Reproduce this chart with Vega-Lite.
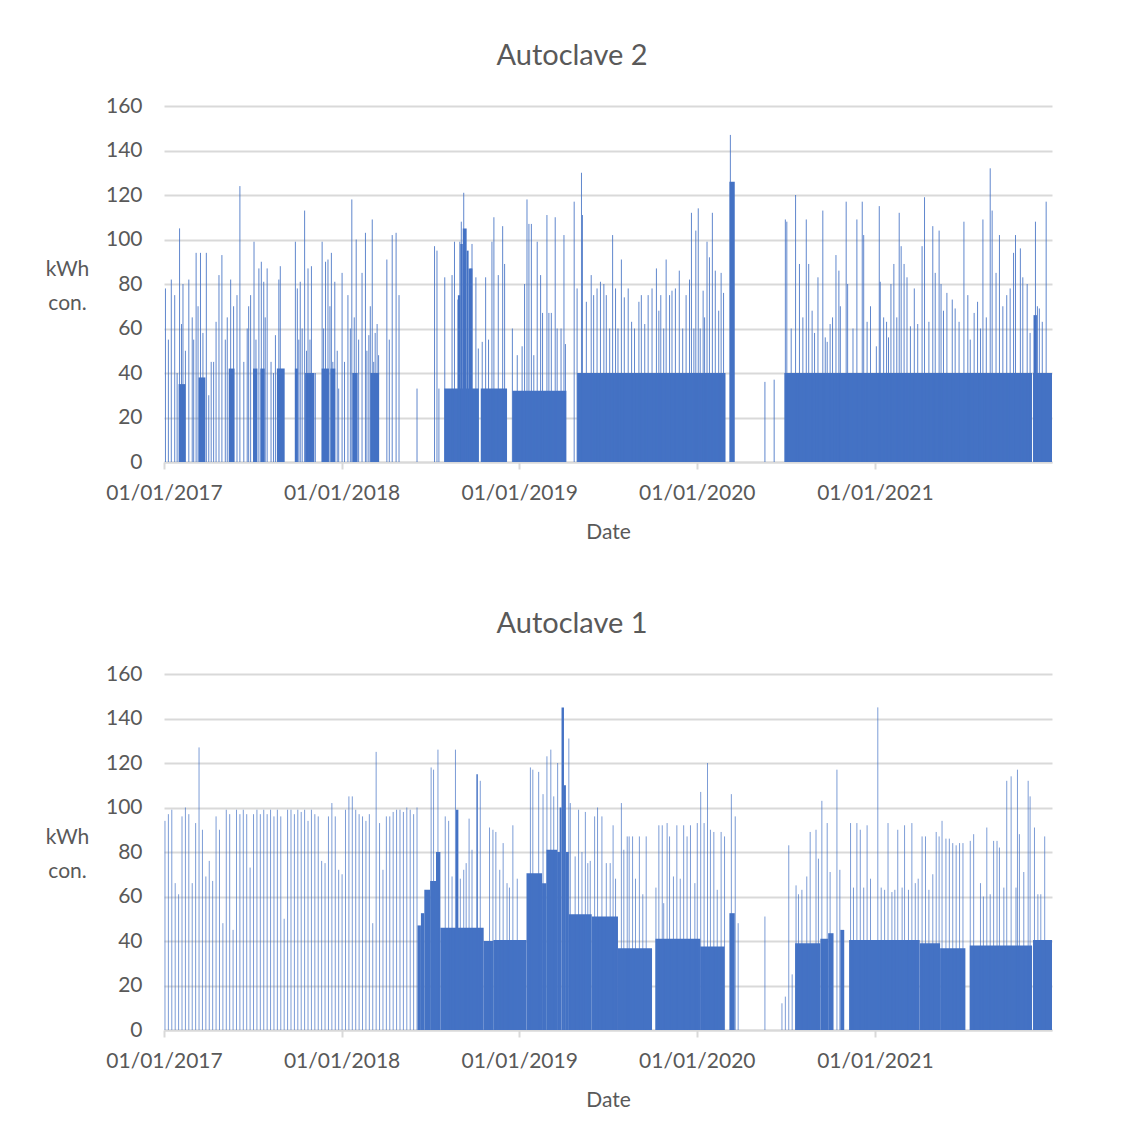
{
 "$schema": "https://vega.github.io/schema/vega-lite/v6.json",
 "background": "white",
 "padding": {"left": 45, "top": 42, "right": 20, "bottom": 10},
 "spacing": 212,
 "bounds": "flush",
 "config": {
  "font": "Lato",
  "view": {"stroke": null},
  "axis": {"labelFont": "Lato", "labelFontSize": 21, "labelColor": "#595959", "titleFont": "Lato", "titleFontSize": 21, "titleColor": "#595959", "titleFontWeight": "normal"},
  "title": {"font": "Lato", "fontSize": 29, "color": "#595959", "fontWeight": "normal"}
 },
 "vconcat": [
  {
   "width": 888, "height": 356,
   "title": {"text": "Autoclave 2", "anchor": "middle", "frame": "group", "dx": -36, "offset": 24},
   "encoding": {
    "x": {"field": "d", "type": "temporal", "title": "Date",
     "scale": {"domain": [{"year": 2017, "month": 1, "date": 1}, {"year": 2021, "month": 12, "date": 31}]},
     "axis": {"values": [{"year": 2017, "month": 1, "date": 1}, {"year": 2018, "month": 1, "date": 1}, {"year": 2019, "month": 1, "date": 1}, {"year": 2020, "month": 1, "date": 1}, {"year": 2021, "month": 1, "date": 1}], "format": "%d/%m/%Y", "grid": false, "domainColor": "#D9D9D9", "domainWidth": 2, "tickColor": "#D9D9D9", "tickSize": 7, "tickWidth": 2, "labelPadding": 13, "titlePadding": 18, "labelFlush": false, "labelOverlap": false}},
    "y": {"field": "v", "type": "quantitative", "title": ["kWh", "con."],
     "scale": {"domain": [0, 160], "nice": false},
     "axis": {"values": [0, 20, 40, 60, 80, 100, 120, 140, 160], "domain": false, "ticks": false, "gridColor": "#D9D9D9", "gridWidth": 2, "labelPadding": 22, "titleAngle": 0, "titleAlign": "center", "titleBaseline": "middle", "titleX": -97, "titleY": 163, "titleLineHeight": 34}}
   },
   "layer": [
    {
     "data": {"format": {"parse": {"d": "date:'%Y-%j'", "d2": "date:'%Y-%j'"}}, "values": [
      {"d": "2017-031", "d2": "2017-045", "v": 35},
      {"d": "2017-072", "d2": "2017-086", "v": 38},
      {"d": "2017-134", "d2": "2017-146", "v": 42},
      {"d": "2017-184", "d2": "2017-193", "v": 42},
      {"d": "2017-199", "d2": "2017-208", "v": 42},
      {"d": "2017-233", "d2": "2017-249", "v": 42},
      {"d": "2017-270", "d2": "2017-276", "v": 42},
      {"d": "2017-291", "d2": "2017-310", "v": 40},
      {"d": "2017-325", "d2": "2017-340", "v": 42},
      {"d": "2017-343", "d2": "2017-353", "v": 42},
      {"d": "2018-023", "d2": "2018-034", "v": 40},
      {"d": "2018-060", "d2": "2018-078", "v": 40},
      {"d": "2018-212", "d2": "2018-283", "v": 33},
      {"d": "2018-240", "d2": "2018-245", "v": 75},
      {"d": "2018-245", "d2": "2018-250", "v": 98},
      {"d": "2018-250", "d2": "2018-258", "v": 105},
      {"d": "2018-258", "d2": "2018-262", "v": 95},
      {"d": "2018-262", "d2": "2018-270", "v": 87},
      {"d": "2018-287", "d2": "2018-341", "v": 33},
      {"d": "2018-352", "d2": "2019-098", "v": 32},
      {"d": "2019-120", "d2": "2020-060", "v": 40},
      {"d": "2020-068", "d2": "2020-079", "v": 126},
      {"d": "2020-181", "d2": "2021-324", "v": 40},
      {"d": "2021-326", "d2": "2021-365", "v": 40},
      {"d": "2021-327", "d2": "2021-334", "v": 66}
     ]},
     "mark": {"type": "rect", "color": "#4472C4"},
     "encoding": {"x2": {"field": "d2"}, "y2": {"datum": 0}}
    },
    {
     "data": {"format": {"parse": {"d": "date:'%Y-%j'"}}, "values": [
      {"d": "2017-004", "v": 78}, {"d": "2017-010", "v": 55}, {"d": "2017-016", "v": 82}, {"d": "2017-023", "v": 75}, {"d": "2017-028", "v": 40}, {"d": "2017-033", "v": 105}, {"d": "2017-037", "v": 62}, {"d": "2017-040", "v": 80}, {"d": "2017-045", "v": 50}, {"d": "2017-052", "v": 82}, {"d": "2017-059", "v": 65}, {"d": "2017-062", "v": 55}, {"d": "2017-067", "v": 94}, {"d": "2017-071", "v": 70}, {"d": "2017-076", "v": 94}, {"d": "2017-081", "v": 58}, {"d": "2017-088", "v": 94}, {"d": "2017-093", "v": 30}, {"d": "2017-098", "v": 45}, {"d": "2017-103", "v": 45}, {"d": "2017-108", "v": 63}, {"d": "2017-114", "v": 84}, {"d": "2017-120", "v": 93}, {"d": "2017-127", "v": 55}, {"d": "2017-131", "v": 65}, {"d": "2017-138", "v": 82}, {"d": "2017-144", "v": 70}, {"d": "2017-151", "v": 75}, {"d": "2017-157", "v": 124}, {"d": "2017-165", "v": 45}, {"d": "2017-172", "v": 60}, {"d": "2017-175", "v": 70}, {"d": "2017-179", "v": 75}, {"d": "2017-186", "v": 99}, {"d": "2017-190", "v": 55}, {"d": "2017-196", "v": 87}, {"d": "2017-201", "v": 90}, {"d": "2017-206", "v": 81}, {"d": "2017-209", "v": 65}, {"d": "2017-213", "v": 87}, {"d": "2017-221", "v": 45}, {"d": "2017-226", "v": 40}, {"d": "2017-230", "v": 57}, {"d": "2017-237", "v": 82}, {"d": "2017-240", "v": 88}, {"d": "2017-271", "v": 99}, {"d": "2017-275", "v": 78}, {"d": "2017-278", "v": 55}, {"d": "2017-281", "v": 81}, {"d": "2017-285", "v": 60}, {"d": "2017-290", "v": 113}, {"d": "2017-294", "v": 50}, {"d": "2017-297", "v": 87}, {"d": "2017-301", "v": 55}, {"d": "2017-304", "v": 88}, {"d": "2017-312", "v": 40}, {"d": "2017-326", "v": 99}, {"d": "2017-329", "v": 60}, {"d": "2017-333", "v": 90}, {"d": "2017-338", "v": 91}, {"d": "2017-342", "v": 70}, {"d": "2017-345", "v": 94}, {"d": "2017-348", "v": 45}, {"d": "2017-352", "v": 81}, {"d": "2017-357", "v": 50}, {"d": "2017-360", "v": 33},
      {"d": "2018-002", "v": 85}, {"d": "2018-007", "v": 45}, {"d": "2018-014", "v": 75}, {"d": "2018-019", "v": 60}, {"d": "2018-022", "v": 118}, {"d": "2018-027", "v": 65}, {"d": "2018-031", "v": 100}, {"d": "2018-036", "v": 55}, {"d": "2018-043", "v": 85}, {"d": "2018-050", "v": 103}, {"d": "2018-053", "v": 50}, {"d": "2018-057", "v": 57}, {"d": "2018-060", "v": 70}, {"d": "2018-064", "v": 109}, {"d": "2018-067", "v": 45}, {"d": "2018-070", "v": 58}, {"d": "2018-074", "v": 62}, {"d": "2018-077", "v": 48}, {"d": "2018-094", "v": 91}, {"d": "2018-099", "v": 55}, {"d": "2018-105", "v": 102}, {"d": "2018-113", "v": 103}, {"d": "2018-119", "v": 75}, {"d": "2018-156", "v": 33}, {"d": "2018-192", "v": 97}, {"d": "2018-197", "v": 95}, {"d": "2018-201", "v": 33}, {"d": "2018-213", "v": 83}, {"d": "2018-228", "v": 84}, {"d": "2018-233", "v": 99}, {"d": "2018-240", "v": 73}, {"d": "2018-244", "v": 99}, {"d": "2018-247", "v": 108}, {"d": "2018-252", "v": 121}, {"d": "2018-267", "v": 87}, {"d": "2018-269", "v": 98}, {"d": "2018-277", "v": 83}, {"d": "2018-282", "v": 51}, {"d": "2018-290", "v": 54}, {"d": "2018-297", "v": 83}, {"d": "2018-303", "v": 55}, {"d": "2018-310", "v": 99}, {"d": "2018-314", "v": 110}, {"d": "2018-323", "v": 84}, {"d": "2018-332", "v": 106}, {"d": "2018-336", "v": 89}, {"d": "2018-352", "v": 60}, {"d": "2018-362", "v": 48},
      {"d": "2019-007", "v": 52}, {"d": "2019-012", "v": 80}, {"d": "2019-017", "v": 118}, {"d": "2019-021", "v": 107}, {"d": "2019-026", "v": 107}, {"d": "2019-031", "v": 48}, {"d": "2019-038", "v": 99}, {"d": "2019-045", "v": 84}, {"d": "2019-049", "v": 67}, {"d": "2019-058", "v": 111}, {"d": "2019-062", "v": 67}, {"d": "2019-067", "v": 67}, {"d": "2019-075", "v": 110}, {"d": "2019-079", "v": 60}, {"d": "2019-087", "v": 60}, {"d": "2019-093", "v": 102}, {"d": "2019-096", "v": 53}, {"d": "2019-114", "v": 117}, {"d": "2019-120", "v": 78}, {"d": "2019-129", "v": 130}, {"d": "2019-131", "v": 111}, {"d": "2019-139", "v": 72}, {"d": "2019-149", "v": 84}, {"d": "2019-154", "v": 75}, {"d": "2019-161", "v": 78}, {"d": "2019-168", "v": 81}, {"d": "2019-175", "v": 80}, {"d": "2019-180", "v": 75}, {"d": "2019-187", "v": 60}, {"d": "2019-193", "v": 102}, {"d": "2019-199", "v": 78}, {"d": "2019-204", "v": 60}, {"d": "2019-211", "v": 91}, {"d": "2019-217", "v": 74}, {"d": "2019-225", "v": 78}, {"d": "2019-232", "v": 63}, {"d": "2019-238", "v": 60}, {"d": "2019-247", "v": 72}, {"d": "2019-252", "v": 75}, {"d": "2019-259", "v": 62}, {"d": "2019-266", "v": 75}, {"d": "2019-274", "v": 78}, {"d": "2019-283", "v": 87}, {"d": "2019-288", "v": 68}, {"d": "2019-292", "v": 75}, {"d": "2019-298", "v": 60}, {"d": "2019-303", "v": 91}, {"d": "2019-310", "v": 75}, {"d": "2019-315", "v": 77}, {"d": "2019-322", "v": 78}, {"d": "2019-330", "v": 86}, {"d": "2019-337", "v": 60}, {"d": "2019-344", "v": 75}, {"d": "2019-351", "v": 82}, {"d": "2019-355", "v": 112}, {"d": "2019-360", "v": 60}, {"d": "2019-364", "v": 104},
      {"d": "2020-004", "v": 114}, {"d": "2020-008", "v": 60}, {"d": "2020-014", "v": 77}, {"d": "2020-017", "v": 65}, {"d": "2020-022", "v": 99}, {"d": "2020-027", "v": 92}, {"d": "2020-033", "v": 112}, {"d": "2020-039", "v": 86}, {"d": "2020-046", "v": 68}, {"d": "2020-051", "v": 85}, {"d": "2020-056", "v": 76}, {"d": "2020-070", "v": 147}, {"d": "2020-141", "v": 36}, {"d": "2020-160", "v": 37}, {"d": "2020-183", "v": 109}, {"d": "2020-186", "v": 108}, {"d": "2020-195", "v": 60}, {"d": "2020-204", "v": 120}, {"d": "2020-212", "v": 89}, {"d": "2020-219", "v": 65}, {"d": "2020-226", "v": 109}, {"d": "2020-231", "v": 89}, {"d": "2020-238", "v": 68}, {"d": "2020-243", "v": 58}, {"d": "2020-250", "v": 83}, {"d": "2020-260", "v": 113}, {"d": "2020-265", "v": 56}, {"d": "2020-269", "v": 54}, {"d": "2020-275", "v": 62}, {"d": "2020-280", "v": 65}, {"d": "2020-287", "v": 93}, {"d": "2020-293", "v": 86}, {"d": "2020-296", "v": 70}, {"d": "2020-308", "v": 117}, {"d": "2020-311", "v": 80}, {"d": "2020-322", "v": 60}, {"d": "2020-330", "v": 109}, {"d": "2020-341", "v": 117}, {"d": "2020-344", "v": 102}, {"d": "2020-351", "v": 63}, {"d": "2020-358", "v": 70},
      {"d": "2021-004", "v": 52}, {"d": "2021-010", "v": 115}, {"d": "2021-012", "v": 81}, {"d": "2021-019", "v": 65}, {"d": "2021-025", "v": 63}, {"d": "2021-029", "v": 56}, {"d": "2021-034", "v": 80}, {"d": "2021-040", "v": 89}, {"d": "2021-046", "v": 65}, {"d": "2021-051", "v": 112}, {"d": "2021-055", "v": 97}, {"d": "2021-061", "v": 89}, {"d": "2021-067", "v": 83}, {"d": "2021-074", "v": 61}, {"d": "2021-082", "v": 78}, {"d": "2021-089", "v": 62}, {"d": "2021-098", "v": 97}, {"d": "2021-103", "v": 119}, {"d": "2021-112", "v": 63}, {"d": "2021-120", "v": 106}, {"d": "2021-125", "v": 85}, {"d": "2021-133", "v": 104}, {"d": "2021-137", "v": 80}, {"d": "2021-142", "v": 68}, {"d": "2021-149", "v": 76}, {"d": "2021-160", "v": 73}, {"d": "2021-166", "v": 69}, {"d": "2021-174", "v": 63}, {"d": "2021-184", "v": 108}, {"d": "2021-192", "v": 75}, {"d": "2021-197", "v": 55}, {"d": "2021-205", "v": 67}, {"d": "2021-212", "v": 72}, {"d": "2021-218", "v": 60}, {"d": "2021-223", "v": 109}, {"d": "2021-230", "v": 65}, {"d": "2021-238", "v": 132}, {"d": "2021-242", "v": 113}, {"d": "2021-250", "v": 85}, {"d": "2021-257", "v": 102}, {"d": "2021-264", "v": 70}, {"d": "2021-272", "v": 75}, {"d": "2021-279", "v": 78}, {"d": "2021-286", "v": 94}, {"d": "2021-290", "v": 102}, {"d": "2021-300", "v": 96}, {"d": "2021-305", "v": 83}, {"d": "2021-314", "v": 80}, {"d": "2021-320", "v": 58}, {"d": "2021-331", "v": 108}, {"d": "2021-335", "v": 70}, {"d": "2021-339", "v": 69}, {"d": "2021-345", "v": 63}, {"d": "2021-353", "v": 117}
     ]},
     "mark": {"type": "rule", "color": "#4472C4", "strokeWidth": 1, "opacity": 0.85},
     "encoding": {"y2": {"datum": 0}}
    }
   ]
  },
  {
   "width": 888, "height": 356,
   "title": {"text": "Autoclave 1", "anchor": "middle", "frame": "group", "dx": -36, "offset": 24},
   "encoding": {
    "x": {"field": "d", "type": "temporal", "title": "Date",
     "scale": {"domain": [{"year": 2017, "month": 1, "date": 1}, {"year": 2021, "month": 12, "date": 31}]},
     "axis": {"values": [{"year": 2017, "month": 1, "date": 1}, {"year": 2018, "month": 1, "date": 1}, {"year": 2019, "month": 1, "date": 1}, {"year": 2020, "month": 1, "date": 1}, {"year": 2021, "month": 1, "date": 1}], "format": "%d/%m/%Y", "grid": false, "domainColor": "#D9D9D9", "domainWidth": 2, "tickColor": "#D9D9D9", "tickSize": 7, "tickWidth": 2, "labelPadding": 13, "titlePadding": 18, "labelFlush": false, "labelOverlap": false}},
    "y": {"field": "v", "type": "quantitative", "title": ["kWh", "con."],
     "scale": {"domain": [0, 160], "nice": false},
     "axis": {"values": [0, 20, 40, 60, 80, 100, 120, 140, 160], "domain": false, "ticks": false, "gridColor": "#D9D9D9", "gridWidth": 2, "labelPadding": 22, "titleAngle": 0, "titleAlign": "center", "titleBaseline": "middle", "titleX": -97, "titleY": 163, "titleLineHeight": 34}}
   },
   "layer": [
    {
     "data": {"format": {"parse": {"d": "date:'%Y-%j'", "d2": "date:'%Y-%j'"}}, "values": [
      {"d": "2018-157", "d2": "2018-164", "v": 47},
      {"d": "2018-164", "d2": "2018-171", "v": 52.5},
      {"d": "2018-171", "d2": "2018-183", "v": 63},
      {"d": "2018-183", "d2": "2018-195", "v": 67},
      {"d": "2018-195", "d2": "2018-204", "v": 80},
      {"d": "2018-204", "d2": "2018-293", "v": 46},
      {"d": "2018-236", "d2": "2018-241", "v": 99},
      {"d": "2018-278", "d2": "2018-281", "v": 115},
      {"d": "2018-293", "d2": "2018-313", "v": 40},
      {"d": "2018-313", "d2": "2019-016", "v": 40.5},
      {"d": "2019-016", "d2": "2019-048", "v": 70.5},
      {"d": "2019-048", "d2": "2019-057", "v": 66},
      {"d": "2019-057", "d2": "2019-079", "v": 81},
      {"d": "2019-079", "d2": "2019-085", "v": 80},
      {"d": "2019-084", "d2": "2019-088", "v": 100},
      {"d": "2019-088", "d2": "2019-093", "v": 145},
      {"d": "2019-093", "d2": "2019-097", "v": 110},
      {"d": "2019-097", "d2": "2019-103", "v": 80},
      {"d": "2019-103", "d2": "2019-150", "v": 52},
      {"d": "2019-150", "d2": "2019-204", "v": 51},
      {"d": "2019-204", "d2": "2019-274", "v": 36.7},
      {"d": "2019-281", "d2": "2020-008", "v": 41},
      {"d": "2020-008", "d2": "2020-058", "v": 37.5},
      {"d": "2020-068", "d2": "2020-079", "v": 52.5},
      {"d": "2020-203", "d2": "2020-255", "v": 39},
      {"d": "2020-255", "d2": "2020-271", "v": 41},
      {"d": "2020-271", "d2": "2020-282", "v": 43.5},
      {"d": "2020-296", "d2": "2020-304", "v": 45},
      {"d": "2020-314", "d2": "2021-093", "v": 40.5},
      {"d": "2021-093", "d2": "2021-135", "v": 39},
      {"d": "2021-135", "d2": "2021-187", "v": 36.7},
      {"d": "2021-196", "d2": "2021-324", "v": 38},
      {"d": "2021-326", "d2": "2021-365", "v": 40.5}
     ]},
     "mark": {"type": "rect", "color": "#4472C4"},
     "encoding": {"x2": {"field": "d2"}, "y2": {"datum": 0}}
    },
    {
     "data": {"format": {"parse": {"d": "date:'%Y-%j'"}}, "values": [
      {"d": "2017-003", "v": 94}, {"d": "2017-010", "v": 97}, {"d": "2017-017", "v": 99}, {"d": "2017-024", "v": 66}, {"d": "2017-031", "v": 61}, {"d": "2017-038", "v": 96}, {"d": "2017-045", "v": 100}, {"d": "2017-052", "v": 97}, {"d": "2017-059", "v": 66}, {"d": "2017-066", "v": 93}, {"d": "2017-073", "v": 127}, {"d": "2017-080", "v": 90}, {"d": "2017-087", "v": 69}, {"d": "2017-094", "v": 76}, {"d": "2017-101", "v": 67}, {"d": "2017-108", "v": 96}, {"d": "2017-115", "v": 90}, {"d": "2017-122", "v": 48}, {"d": "2017-129", "v": 99}, {"d": "2017-136", "v": 97}, {"d": "2017-143", "v": 45}, {"d": "2017-150", "v": 99}, {"d": "2017-157", "v": 97}, {"d": "2017-164", "v": 99}, {"d": "2017-171", "v": 97}, {"d": "2017-178", "v": 73}, {"d": "2017-185", "v": 97}, {"d": "2017-192", "v": 99}, {"d": "2017-199", "v": 97}, {"d": "2017-206", "v": 99}, {"d": "2017-213", "v": 97}, {"d": "2017-220", "v": 99}, {"d": "2017-227", "v": 96}, {"d": "2017-234", "v": 99}, {"d": "2017-241", "v": 96}, {"d": "2017-248", "v": 50}, {"d": "2017-255", "v": 99}, {"d": "2017-262", "v": 99}, {"d": "2017-269", "v": 97}, {"d": "2017-276", "v": 99}, {"d": "2017-283", "v": 98}, {"d": "2017-290", "v": 99}, {"d": "2017-297", "v": 94}, {"d": "2017-304", "v": 99}, {"d": "2017-311", "v": 97}, {"d": "2017-318", "v": 96}, {"d": "2017-325", "v": 76}, {"d": "2017-332", "v": 75}, {"d": "2017-339", "v": 96}, {"d": "2017-346", "v": 102}, {"d": "2017-353", "v": 96}, {"d": "2017-360", "v": 72},
      {"d": "2018-002", "v": 70}, {"d": "2018-009", "v": 99}, {"d": "2018-016", "v": 105}, {"d": "2018-023", "v": 105}, {"d": "2018-030", "v": 99}, {"d": "2018-037", "v": 97}, {"d": "2018-044", "v": 96}, {"d": "2018-051", "v": 94}, {"d": "2018-058", "v": 97}, {"d": "2018-065", "v": 48}, {"d": "2018-072", "v": 125}, {"d": "2018-079", "v": 93}, {"d": "2018-086", "v": 72}, {"d": "2018-093", "v": 96}, {"d": "2018-100", "v": 96}, {"d": "2018-107", "v": 98}, {"d": "2018-114", "v": 99}, {"d": "2018-121", "v": 99}, {"d": "2018-128", "v": 98}, {"d": "2018-135", "v": 100}, {"d": "2018-142", "v": 99}, {"d": "2018-149", "v": 97}, {"d": "2018-156", "v": 100},
      {"d": "2018-185", "v": 118}, {"d": "2018-190", "v": 117}, {"d": "2018-199", "v": 126}, {"d": "2018-214", "v": 96}, {"d": "2018-221", "v": 94}, {"d": "2018-228", "v": 69}, {"d": "2018-235", "v": 126}, {"d": "2018-245", "v": 68}, {"d": "2018-252", "v": 72}, {"d": "2018-257", "v": 75}, {"d": "2018-263", "v": 95}, {"d": "2018-269", "v": 81}, {"d": "2018-286", "v": 112}, {"d": "2018-305", "v": 91}, {"d": "2018-312", "v": 90}, {"d": "2018-318", "v": 89}, {"d": "2018-326", "v": 72}, {"d": "2018-333", "v": 84}, {"d": "2018-341", "v": 66}, {"d": "2018-346", "v": 64}, {"d": "2018-353", "v": 92}, {"d": "2018-362", "v": 68},
      {"d": "2019-024", "v": 118}, {"d": "2019-029", "v": 117}, {"d": "2019-041", "v": 116}, {"d": "2019-050", "v": 106}, {"d": "2019-058", "v": 123}, {"d": "2019-066", "v": 126}, {"d": "2019-072", "v": 105}, {"d": "2019-080", "v": 120}, {"d": "2019-103", "v": 131}, {"d": "2019-106", "v": 102}, {"d": "2019-116", "v": 78}, {"d": "2019-123", "v": 99}, {"d": "2019-130", "v": 80}, {"d": "2019-137", "v": 98}, {"d": "2019-142", "v": 75}, {"d": "2019-147", "v": 76}, {"d": "2019-156", "v": 96}, {"d": "2019-162", "v": 100}, {"d": "2019-171", "v": 96}, {"d": "2019-180", "v": 75}, {"d": "2019-188", "v": 75}, {"d": "2019-194", "v": 92}, {"d": "2019-199", "v": 68}, {"d": "2019-211", "v": 102}, {"d": "2019-216", "v": 81}, {"d": "2019-223", "v": 87}, {"d": "2019-227", "v": 87}, {"d": "2019-234", "v": 87}, {"d": "2019-240", "v": 68}, {"d": "2019-248", "v": 87}, {"d": "2019-255", "v": 61}, {"d": "2019-262", "v": 87}, {"d": "2019-282", "v": 64}, {"d": "2019-288", "v": 92}, {"d": "2019-295", "v": 92}, {"d": "2019-298", "v": 57}, {"d": "2019-305", "v": 93}, {"d": "2019-310", "v": 87}, {"d": "2019-318", "v": 69}, {"d": "2019-325", "v": 92}, {"d": "2019-332", "v": 68}, {"d": "2019-339", "v": 92}, {"d": "2019-346", "v": 87}, {"d": "2019-353", "v": 92}, {"d": "2019-362", "v": 66},
      {"d": "2020-002", "v": 93}, {"d": "2020-009", "v": 107}, {"d": "2020-016", "v": 93}, {"d": "2020-023", "v": 120}, {"d": "2020-029", "v": 90}, {"d": "2020-036", "v": 89}, {"d": "2020-043", "v": 63}, {"d": "2020-051", "v": 89}, {"d": "2020-058", "v": 87}, {"d": "2020-072", "v": 106}, {"d": "2020-080", "v": 96}, {"d": "2020-086", "v": 48}, {"d": "2020-141", "v": 51}, {"d": "2020-176", "v": 12}, {"d": "2020-183", "v": 15}, {"d": "2020-190", "v": 83}, {"d": "2020-197", "v": 25}, {"d": "2020-205", "v": 65}, {"d": "2020-210", "v": 61}, {"d": "2020-217", "v": 63}, {"d": "2020-227", "v": 69}, {"d": "2020-234", "v": 89}, {"d": "2020-246", "v": 90}, {"d": "2020-251", "v": 77}, {"d": "2020-258", "v": 103}, {"d": "2020-269", "v": 93}, {"d": "2020-275", "v": 71}, {"d": "2020-289", "v": 117}, {"d": "2020-295", "v": 72}, {"d": "2020-317", "v": 93}, {"d": "2020-323", "v": 64}, {"d": "2020-330", "v": 93}, {"d": "2020-337", "v": 90}, {"d": "2020-344", "v": 64}, {"d": "2020-351", "v": 92}, {"d": "2020-358", "v": 68},
      {"d": "2021-007", "v": 145}, {"d": "2021-014", "v": 64}, {"d": "2021-021", "v": 63}, {"d": "2021-028", "v": 93}, {"d": "2021-036", "v": 62}, {"d": "2021-042", "v": 63}, {"d": "2021-048", "v": 90}, {"d": "2021-057", "v": 64}, {"d": "2021-062", "v": 92}, {"d": "2021-070", "v": 63}, {"d": "2021-077", "v": 93}, {"d": "2021-084", "v": 66}, {"d": "2021-090", "v": 68}, {"d": "2021-098", "v": 87}, {"d": "2021-105", "v": 87}, {"d": "2021-112", "v": 63}, {"d": "2021-120", "v": 70}, {"d": "2021-127", "v": 89}, {"d": "2021-133", "v": 87}, {"d": "2021-139", "v": 94}, {"d": "2021-147", "v": 86}, {"d": "2021-154", "v": 86}, {"d": "2021-161", "v": 84}, {"d": "2021-168", "v": 83}, {"d": "2021-175", "v": 84}, {"d": "2021-182", "v": 84}, {"d": "2021-197", "v": 85}, {"d": "2021-204", "v": 88}, {"d": "2021-218", "v": 66}, {"d": "2021-224", "v": 60}, {"d": "2021-231", "v": 91}, {"d": "2021-238", "v": 61}, {"d": "2021-245", "v": 85}, {"d": "2021-252", "v": 85}, {"d": "2021-257", "v": 82}, {"d": "2021-266", "v": 64}, {"d": "2021-272", "v": 112}, {"d": "2021-281", "v": 114}, {"d": "2021-291", "v": 64}, {"d": "2021-294", "v": 117}, {"d": "2021-298", "v": 88}, {"d": "2021-307", "v": 71}, {"d": "2021-316", "v": 112}, {"d": "2021-320", "v": 105}, {"d": "2021-329", "v": 91}, {"d": "2021-336", "v": 61}, {"d": "2021-342", "v": 61}, {"d": "2021-350", "v": 87}
     ]},
     "mark": {"type": "rule", "color": "#4472C4", "strokeWidth": 1, "opacity": 0.7},
     "encoding": {"y2": {"datum": 0}}
    }
   ]
  }
 ]
}
